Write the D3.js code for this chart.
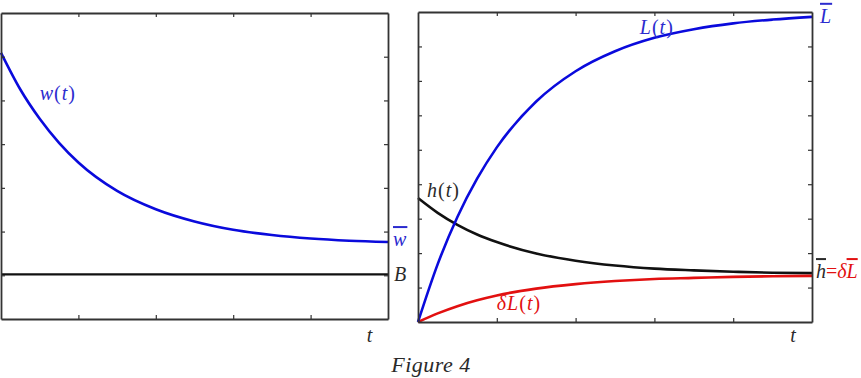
<!DOCTYPE html>
<html>
<head>
<meta charset="utf-8">
<script src="https://cdn.jsdelivr.net/npm/d3@7"></script>
<style>
  html, body { margin: 0; padding: 0; background: #fff; }
  svg { display: block; }
  .lbl { font-family: "Liberation Serif", "DejaVu Serif", serif; font-size: 20px; letter-spacing: 1px; }
  .it { font-style: italic; }
  .bar { text-decoration: overline; }
</style>
</head>
<body>
<div id="chart"></div>
<script>
/* Sample times shared by every curve (t axis, 0..10) */
const T_VALUES = [0, 0.5, 1, 1.5, 2, 3, 4, 5, 6, 7, 8, 9, 10];

/* Left panel: wage path and the level B */
const W_VALUES = [6.09, 5.25, 4.58, 4.03, 3.58, 2.93, 2.51, 2.23, 2.04, 1.92, 1.84, 1.79, 1.76];
const B_LEVEL = 1.02;

/* Right panel: L(t), h(t) and deltaL(t) */
const L_VALUES  = [0, 1.68, 3.05, 4.16, 5.07, 6.40, 7.28, 7.86, 8.25, 8.50, 8.67, 8.78, 8.86];
const H_VALUES  = [3.60, 3.17, 2.82, 2.54, 2.32, 1.99, 1.78, 1.64, 1.55, 1.50, 1.46, 1.43, 1.42];
const DL_VALUES = [0, 0.25, 0.46, 0.63, 0.77, 0.97, 1.10, 1.19, 1.25, 1.28, 1.31, 1.33, 1.34];

/* Tick positions (no labels in the figure) */
const X_TICKS = [2, 4, 6, 8];
const W_TICKS = [1, 2, 3, 4, 5, 6];
const R_TICKS = [1, 2, 3, 4, 5, 6, 7, 8];

const BLUE = "#0a0adc", TXT_BLUE = "#2b2bcf", RED = "#e21010", INK = "#111", TXT = "#2a2a2a", FRAME = "#333";

const W = 861, H = 378;
const svg = d3.select("#chart").append("svg")
  .attr("width", W).attr("height", H)
  .attr("viewBox", `0 0 ${W} ${H}`);

/* ── scales ── */
const xW = d3.scaleLinear().domain([0, 10]).range([1, 388]);
const yW = d3.scaleLinear().domain([0, 7]).range([319, 13]);
const xR = d3.scaleLinear().domain([0, 10]).range([418, 812]);
const yR = d3.scaleLinear().domain([0, 9]).range([322, 12]);

/* Box frame with inward ticks on all four sides */
function frame(x, y, yTicks) {
  const [x0, x1] = x.range();
  const [y1, y0] = y.range();
  const g = svg.append("g");
  const style = sel => {
    sel.selectAll("text").remove();
    sel.select(".domain").attr("stroke", FRAME).attr("stroke-width", 1.8);
    sel.selectAll(".tick line").attr("stroke", FRAME).attr("stroke-width", 1.2);
  };
  g.append("g").attr("transform", `translate(0,${y1})`)
    .call(d3.axisBottom(x).tickValues(X_TICKS).tickSizeInner(-4).tickSizeOuter(0)).call(style);
  g.append("g").attr("transform", `translate(0,${y0})`)
    .call(d3.axisTop(x).tickValues(X_TICKS).tickSizeInner(-4).tickSizeOuter(0)).call(style);
  g.append("g").attr("transform", `translate(${x0},0)`)
    .call(d3.axisLeft(y).tickValues(yTicks).tickSizeInner(-4).tickSizeOuter(0)).call(style);
  g.append("g").attr("transform", `translate(${x1},0)`)
    .call(d3.axisRight(y).tickValues(yTicks).tickSizeInner(-4).tickSizeOuter(0)).call(style);
}

function curve(x, y, values, color) {
  const line = d3.line()
    .x((d, i) => x(T_VALUES[i]))
    .y(d => y(d))
    .curve(d3.curveMonotoneX);
  svg.append("path").datum(values)
    .attr("d", line)
    .attr("fill", "none")
    .attr("stroke", color)
    .attr("stroke-width", 2.6)
    .attr("stroke-linejoin", "round");
}

function label(x, y, parts, anchor) {
  const t = svg.append("text").attr("class", "lbl")
    .attr("x", x).attr("y", y)
    .attr("text-anchor", anchor || "start");
  parts.forEach(p => {
    t.append("tspan")
      .attr("class", (p.it ? "it " : "") + (p.bar ? "bar" : ""))
      .attr("fill", p.c || TXT)
      .text(p.s);
  });
  return t;
}

/* ══════════ LEFT PANEL ══════════ */
svg.append("line")
  .attr("x1", xW(0)).attr("x2", xW(10))
  .attr("y1", yW(B_LEVEL)).attr("y2", yW(B_LEVEL))
  .attr("stroke", INK).attr("stroke-width", 2.4);
curve(xW, yW, W_VALUES, BLUE);
frame(xW, yW, W_TICKS);

label(xW(1.0), yW(5.0), [{ s: "w", it: 1, c: TXT_BLUE }, { s: "(", c: TXT_BLUE }, { s: "t", it: 1, c: TXT_BLUE }, { s: ")", c: TXT_BLUE }]);
label(xW(10) + 5, yW(W_VALUES[W_VALUES.length - 1]) + 4, [{ s: "w", it: 1, bar: 1, c: TXT_BLUE }]);
label(xW(10) + 6, yW(B_LEVEL) + 7, [{ s: "B", it: 1 }]);
label(xW(9.45), 342, [{ s: "t", it: 1 }]);

/* ══════════ RIGHT PANEL ══════════ */
curve(xR, yR, H_VALUES, INK);
curve(xR, yR, DL_VALUES, RED);
curve(xR, yR, L_VALUES, BLUE);
frame(xR, yR, R_TICKS);

label(xR(5.63), yR(8.36), [{ s: "L", it: 1, c: TXT_BLUE }, { s: "(", c: TXT_BLUE }, { s: "t", it: 1, c: TXT_BLUE }, { s: ")", c: TXT_BLUE }]);
label(xR(10) + 8, yR(L_VALUES[L_VALUES.length - 1]) + 6, [{ s: "L", it: 1, bar: 1, c: TXT_BLUE }]);
label(xR(0.23), yR(3.63), [{ s: "h", it: 1 }, { s: "(" }, { s: "t", it: 1 }, { s: ")" }]);
label(xR(2.0), yR(0.35), [{ s: "δ", it: 1, c: RED }, { s: "L", it: 1, c: RED }, { s: "(", c: RED }, { s: "t", it: 1, c: RED }, { s: ")", c: RED }]);
label(xR(10) + 4, yR(H_VALUES[H_VALUES.length - 1]) + 5,
  [{ s: "h", it: 1, bar: 1 }, { s: "=", c: RED }, { s: "δ", it: 1, c: RED }, { s: "L", it: 1, bar: 1, c: RED }])
  .style("letter-spacing", "0px");
label(xR(9.45), 342, [{ s: "t", it: 1 }]);

/* caption */
label(431, 372, [{ s: "Figure 4", it: 1 }], "middle").style("font-size", "22px").style("letter-spacing", "0.5px");
</script>
</body>
</html>
